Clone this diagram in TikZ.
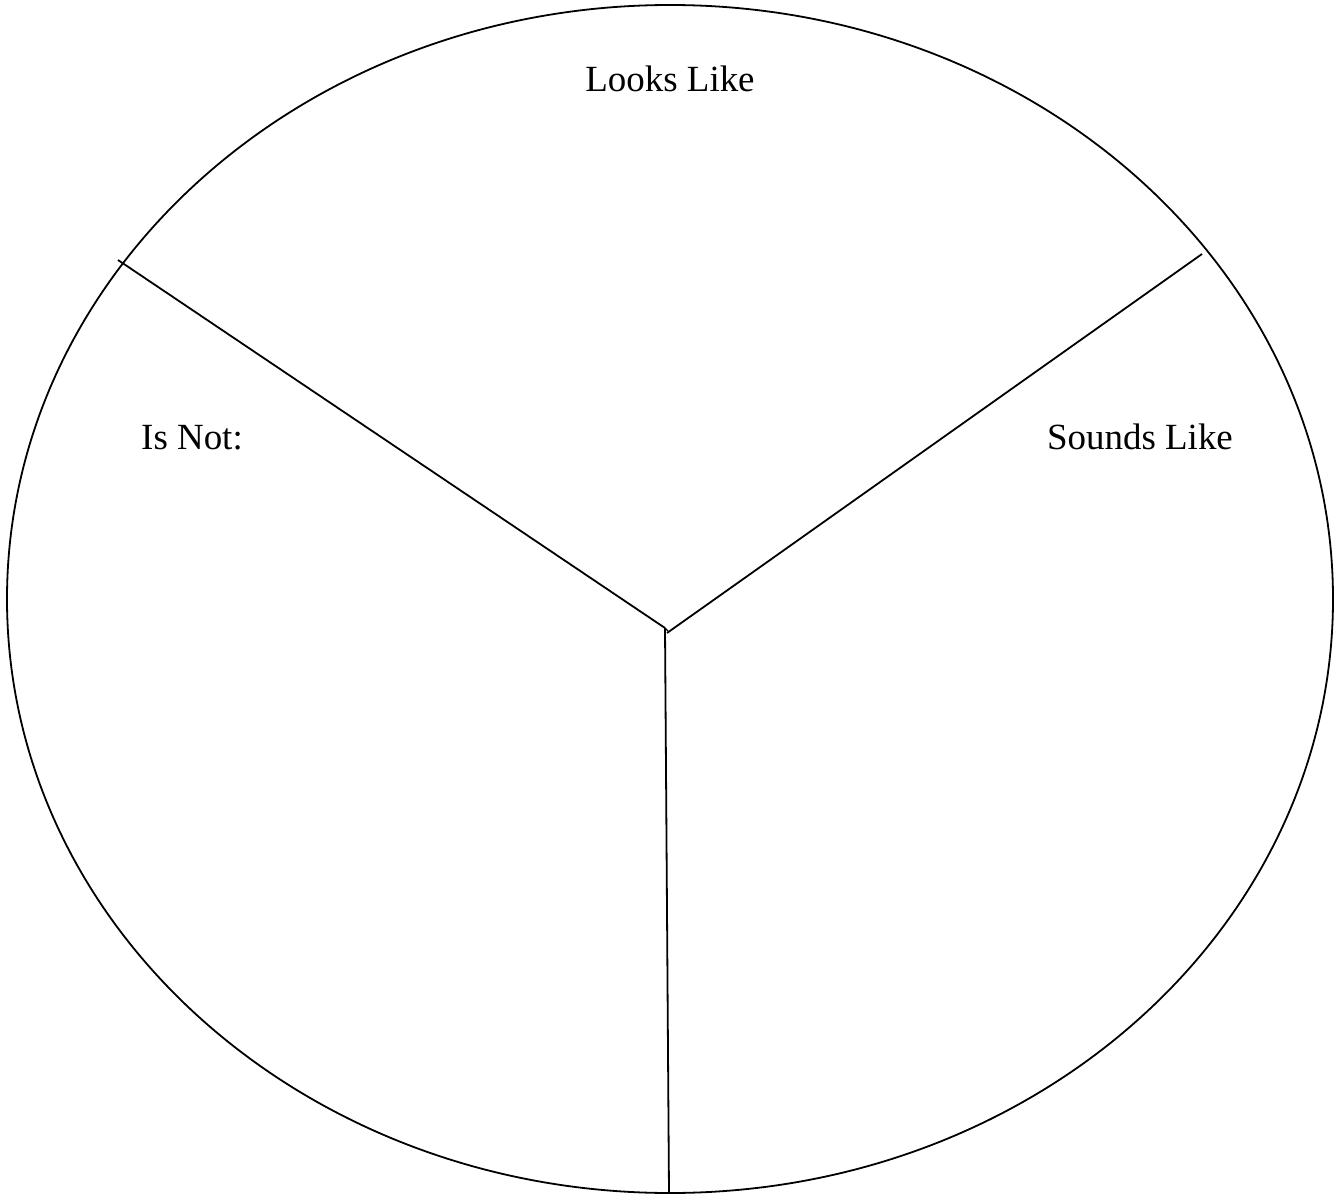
\documentclass[tikz,border=0pt]{standalone}
\usepackage{fontspec}
\setmainfont{Liberation Serif}
\usepackage{tikz}
\usetikzlibrary{calc, positioning}

\begin{document}
\begin{tikzpicture}[x=0.75pt, y=-0.75pt, line width=1.35pt,
    label/.style={font=\fontsize{27.7}{33}\selectfont, anchor=base, inner sep=0pt}]
  \useasboundingbox (0,0) rectangle (1339,1195);
  \draw (670,599) ellipse [x radius=663, y radius=594];
  % spokes
  \coordinate (hub) at (665,628);
  \coordinate (hubr) at (667,633);
  \coordinate (lefttip) at (118,260);
  \coordinate (righttip) at (1202,254);
  \coordinate (bottomtip) at (669,1193);
  \draw (lefttip) -- (hub);
  \draw (righttip) -- (hubr);
  \draw (hub) -- (bottomtip);
  \draw[line width=1pt] (hub) -- (668,631);
  % labels
  \node[label] (looks) at (670,92) {Looks Like};
  \node[label] (isnot) at (192,449) {Is Not:};
  \node[label] (sounds) at (1140,449) {Sounds Like};
\end{tikzpicture}
\end{document}
